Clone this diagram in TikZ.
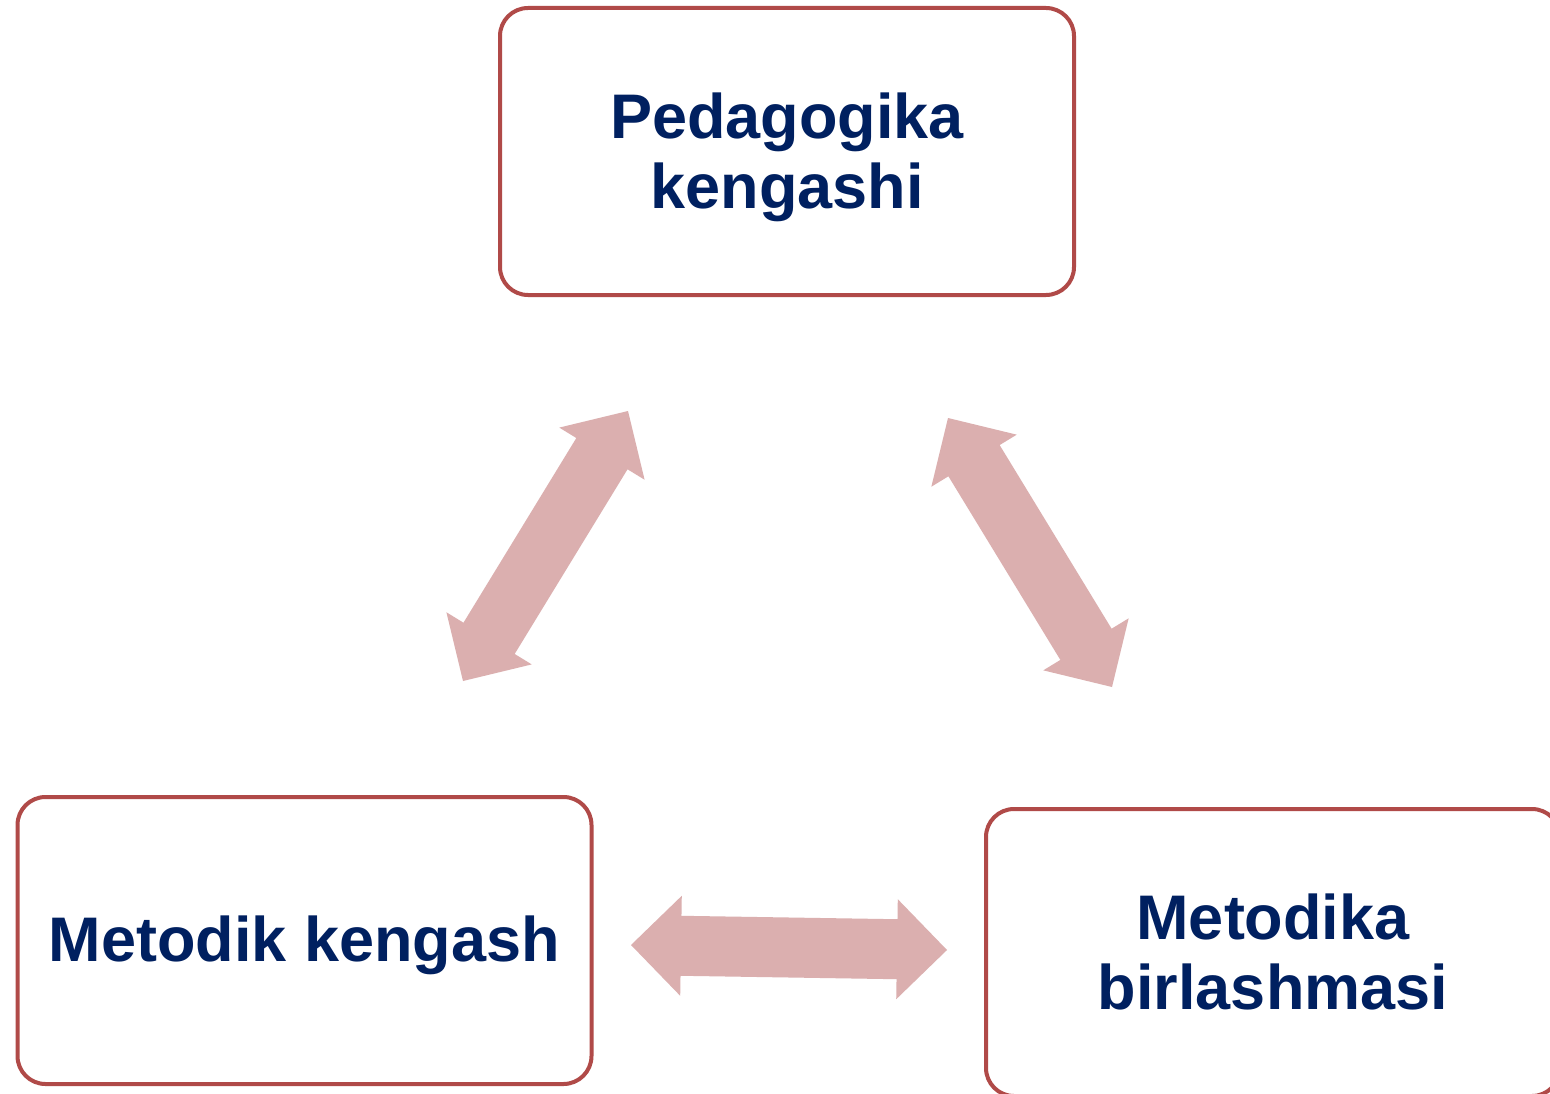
\documentclass[tikz,border=0pt]{standalone}
\usepackage{fontspec}
\setmainfont{Liberation Sans}
\usetikzlibrary{calc}
\definecolor{boxred}{RGB}{176,74,72}
\definecolor{navytext}{RGB}{0,32,96}
\definecolor{arrowpink}{RGB}{219,175,175}
\tikzset{
  box/.style={draw=boxred, line width=4pt, rounded corners=28pt, fill=white,
    minimum width=574pt, minimum height=287pt, align=center, text=navytext,
    font=\bfseries\fontsize{63}{70}\selectfont, inner sep=0pt},
  dblarrow/.style={fill=arrowpink, draw=none}
}
\newcommand{\blockarrow}[2]{%
  \fill[dblarrow] (#1)
    -- ($(#1)!50pt!(#2)!50pt!90:(#2)$)
    -- ($(#1)!50pt!(#2)!30pt!90:(#2)$)
    -- ($(#2)!50pt!(#1)!30pt!-90:(#1)$)
    -- ($(#2)!50pt!(#1)!50pt!-90:(#1)$)
    -- (#2)
    -- ($(#2)!50pt!(#1)!50pt!90:(#1)$)
    -- ($(#2)!50pt!(#1)!30pt!90:(#1)$)
    -- ($(#1)!50pt!(#2)!30pt!-90:(#2)$)
    -- ($(#1)!50pt!(#2)!50pt!-90:(#2)$)
    -- cycle;}
\newcommand{\twolines}[2]{\raisebox{-8pt}[\height][\depth]{\begin{tabular}{@{}c@{}}#1\\#2\end{tabular}}}
\begin{document}
\begin{tikzpicture}[x=1pt,y=-1pt]
  \useasboundingbox (0,0) rectangle (1550,1094);
  \clip (0,0) rectangle (1550,1094);
  \fill[white] (0,0) rectangle (1550,1094);
  \node[box] (ped) at (787,151.5) {\twolines{Pedagogika}{kengashi}};
  \node[box] (met) at (304.5,940.5) {\raisebox{-5pt}[\height][\depth]{Metodik kengash}};
  \node[box] (bir) at (1273,952.5) {\twolines{Metodika}{birlashmasi}};
  \coordinate (l1) at (628,411);
  \coordinate (l2) at (463,681);
  \coordinate (r1) at (948,418);
  \coordinate (r2) at (1112,687);
  \coordinate (h1) at (631,945);
  \coordinate (h2) at (947,950);
  \blockarrow{l1}{l2}
  \blockarrow{r1}{r2}
  \blockarrow{h1}{h2}
\end{tikzpicture}
\end{document}
